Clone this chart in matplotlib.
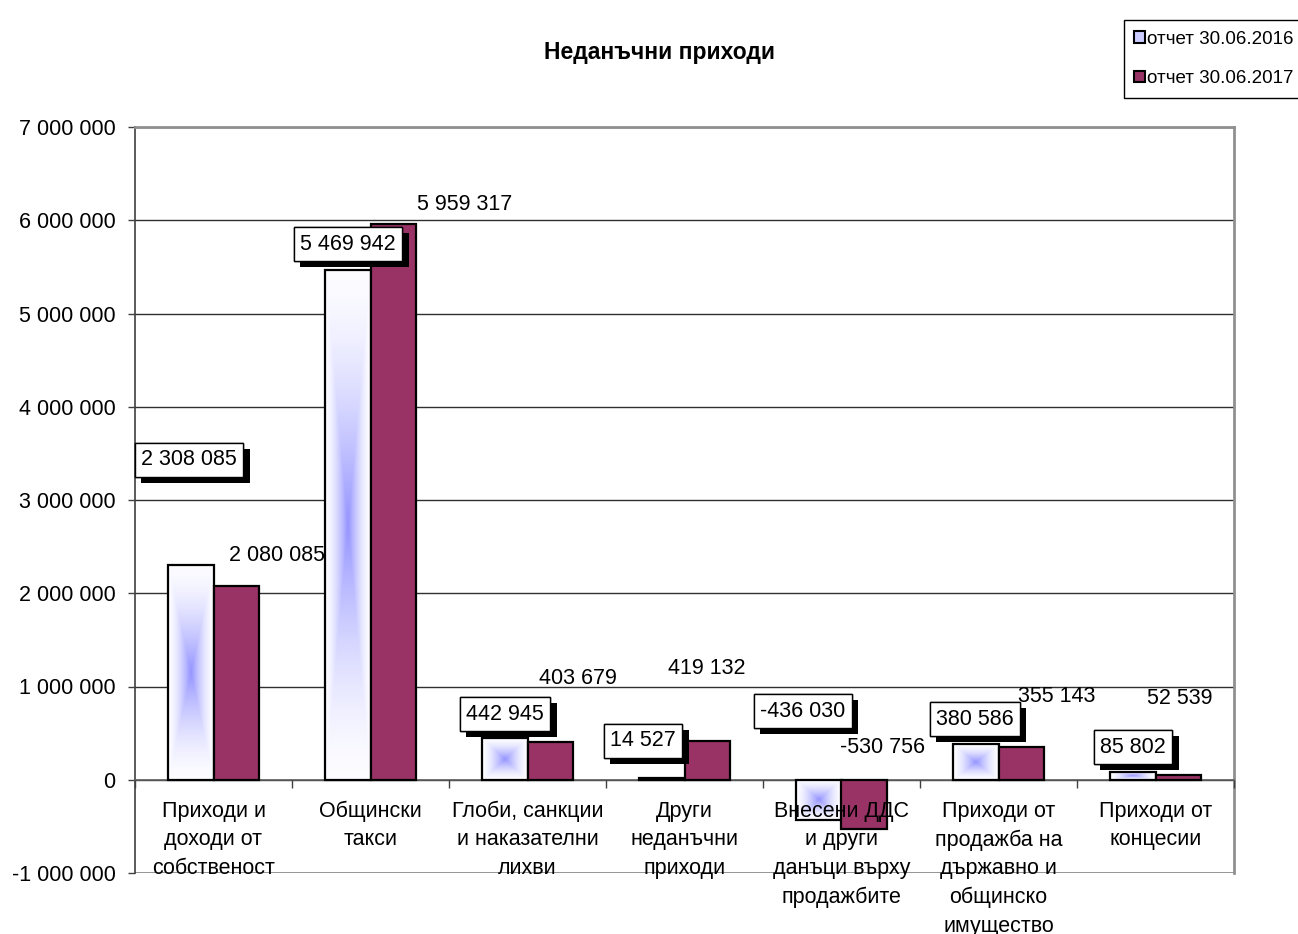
import numpy as np
import matplotlib
matplotlib.use("Agg")
import matplotlib.pyplot as plt
from matplotlib.patches import Patch
import matplotlib.patheffects as pe

plt.rcParams['font.family'] = ['Liberation Sans', 'DejaVu Sans']

# data
categories = ["Приходи и\nдоходи от\nсобственост",
              "Общински\nтакси",
              "Глоби, санкции\nи наказателни\nлихви",
              "Други\nнеданъчни\nприходи",
              "Внесени ДДС\nи други\nданъци върху\nпродажбите",
              "Приходи от\nпродажба на\nдържавно и\nобщинско\nимущество",
              "Приходи от\nконцесии"]
v2016 = [2308085, 5469942, 442945, 14527, -436030, 380586, 85802]
v2017 = [2080085, 5959317, 403679, 419132, -530756, 355143, 52539]
series_names = ["отчет 30.06.2016", "отчет 30.06.2017"]
title = "Неданъчни приходи"

# where the (manually moved) data labels sit: offset from category centre, y value
lbl16_dx = [-0.156, -0.143, -0.143, -0.264, -0.245, -0.150, -0.143]
lbl16_y = [3.43e6, 5.745e6, 0.705e6, 0.416e6, 0.737e6, 0.651e6, 0.351e6]
lbl17_dx = [0.404, 0.602, 0.322, 0.143, 0.264, 0.373, 0.156]
lbl17_y = [2.40e6, 6.164e6, 1.091e6, 1.188e6, 0.351e6, 0.898e6, 0.866e6]

def fmt(v):
    return f"{int(v):,}".replace(",", " ")

BLUE = np.array([0.58, 0.58, 1.0])
WHITE = np.array([0.99, 0.99, 1.0])
MAROON = "#993366"
FS = 15.5

fig = plt.figure(figsize=(12.98, 9.34), dpi=100)
ax = fig.add_axes([135 / 1298, 61 / 934, 1099 / 1298, 746 / 934])

x = np.arange(len(categories))
w = 0.29

# 2016 bars: "from centre" gradient fill, drawn as images inside each bar
gy, gx = np.mgrid[-1:1:200j, -1:1:60j]
t = np.maximum(np.abs(gx), np.abs(gy))
k = (1 - t) ** 1.6
grad = WHITE[None, None, :] * (1 - k[..., None]) + BLUE[None, None, :] * k[..., None]

bars16 = ax.bar(x - w / 2, v2016, w, facecolor="none", edgecolor="black",
                linewidth=1.6, zorder=3)
for b in bars16:
    x0, y0 = b.get_x(), b.get_y()
    x1, y1 = x0 + b.get_width(), y0 + b.get_height()
    ax.imshow(grad, extent=(x0, x1, min(y0, y1), max(y0, y1)), aspect="auto",
              zorder=2, interpolation="bilinear")
ax.bar(x + w / 2, v2017, w, color=MAROON, edgecolor="black", linewidth=1.6, zorder=3)

ax.set_xlim(-0.5, len(categories) - 0.5)
ax.set_ylim(-1e6, 7e6)

# axes styling
yt = np.arange(-1e6, 7e6 + 1, 1e6)
ax.set_yticks(yt)
ax.set_yticklabels([fmt(v) for v in yt], fontsize=FS)
ax.tick_params(axis="y", length=5, width=1, pad=9, color="#404040")
ax.yaxis.grid(True, color="#303030", linewidth=1)
ax.set_axisbelow(True)

ax.spines["bottom"].set_position(("data", 0))
ax.spines["bottom"].set_color("#606060")
ax.spines["bottom"].set_linewidth(1.2)
ax.spines["left"].set_color("#404040")
ax.spines["left"].set_linewidth(1.2)
for s in ["top", "right"]:
    ax.spines[s].set_color("#909090")
    ax.spines[s].set_linewidth(2)
ax.axhline(-1e6, color="#909090", linewidth=2, zorder=1)

ax.set_xticks(x)
ax.set_xticklabels(categories, fontsize=FS, linespacing=1.47)
ax.set_xticks(np.arange(len(categories) + 1) - 0.5, minor=True)
ax.tick_params(axis="x", which="major", length=0, pad=15)
ax.tick_params(axis="x", which="minor", length=6, width=1, color="#404040")
ax.xaxis.set_zorder(5)

# data labels
for i in range(len(categories)):
    t16 = ax.text(i + lbl16_dx[i], lbl16_y[i], fmt(v2016[i]), fontsize=FS,
                  ha="center", va="center", zorder=6,
                  bbox=dict(boxstyle="square,pad=0.3", fc="white", ec="black", lw=1))
    t16.get_bbox_patch().set_path_effects(
        [pe.withSimplePatchShadow(offset=(4.5, -4.5), shadow_rgbFace="black", alpha=1),
         pe.Normal()])
    ax.text(i + lbl17_dx[i], lbl17_y[i], fmt(v2017[i]), fontsize=FS,
            ha="center", va="center", zorder=6)

fig.text(660 / 1298, 1 - 52 / 934, title, fontsize=16.5, fontweight="bold",
         ha="center", va="center")

handles = [Patch(facecolor="#CCCCFF", edgecolor="black", linewidth=1.5),
           Patch(facecolor=MAROON, edgecolor="black", linewidth=1.5)]
leg = fig.legend(handles, series_names, loc="upper right",
                 bbox_to_anchor=(1.012, 1 - 11 / 934), fontsize=13.5,
                 handlelength=0.55, handleheight=0.55, handletextpad=0.15,
                 labelspacing=1.2, borderpad=0.55, fancybox=False,
                 edgecolor="black", framealpha=1)
leg.get_frame().set_linewidth(1)

fig.savefig("out.png", dpi=100)
